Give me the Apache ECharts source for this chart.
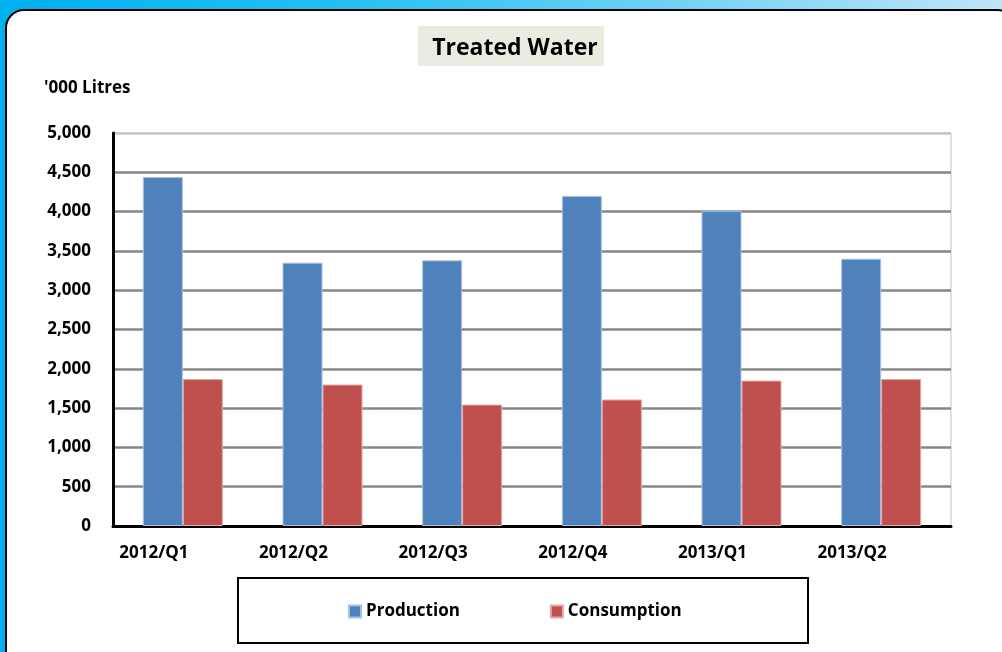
<!DOCTYPE html>
<html>
<head>
<meta charset="utf-8">
<script src="https://cdn.jsdelivr.net/npm/echarts@6/dist/echarts.min.js"></script>
<style>
  html, body { margin: 0; padding: 0; }
  #chart { width: 1002px; height: 652px; }
</style>
</head>
<body>
<div id="chart"></div>
<script>
// 数据
const quarters = ['2012/Q1', '2012/Q2', '2012/Q3', '2012/Q4', '2013/Q1', '2013/Q2'];
const production = [4440, 3350, 3380, 4200, 4010, 3400];
const consumption = [1870, 1800, 1545, 1610, 1850, 1870];
const yTicks = [0, 500, 1000, 1500, 2000, 2500, 3000, 3500, 4000, 4500, 5000];

const font = '"Open Sans", Lato, sans-serif';

var chart = echarts.init(document.getElementById('chart'));

// 网格线颜色：最上面一条浅灰
const splitColors = yTicks.map((v, i) => i === yTicks.length - 1 ? '#c4c4c4' : '#878787');

const option = {
    backgroundColor: new echarts.graphic.LinearGradient(0, 0, 1, 0, [
        { offset: 0, color: '#00b0f0' },
        { offset: 0.35, color: '#26c0f2' },
        { offset: 1, color: '#bfe4f8' }
    ]),
    graphic: [
        {
            // 白色圆角面板
            type: 'rect',
            z: -10,
            shape: { x: 6, y: 10, width: 1010, height: 660, r: 18 },
            style: { fill: '#ffffff', stroke: '#000000', lineWidth: 2 }
        },
        {
            // 标题底色
            type: 'rect',
            z: -5,
            shape: { x: 418, y: 26, width: 186, height: 40 },
            style: { fill: '#ebebdf' }
        },
        {
            // 图例外框
            type: 'rect',
            z: -5,
            shape: { x: 238, y: 578, width: 570, height: 65 },
            style: { fill: '#ffffff', stroke: '#000000', lineWidth: 2 }
        },
        {
            type: 'text',
            left: 44,
            top: 80,
            style: {
                text: "'000 Litres",
                font: 'bold 17px ' + font,
                fill: '#000000'
            }
        }
    ],
    title: {
        text: 'Treated Water',
        left: 510,
        textAlign: 'center',
        top: 32,
        textStyle: {
            fontFamily: font,
            fontWeight: 'bold',
            fontSize: 23,
            color: '#000000'
        }
    },
    legend: {
        left: 343,
        top: 598,
        itemWidth: 12,
        itemHeight: 12,
        itemGap: 90,
        icon: 'rect',
        textStyle: {
            fontFamily: font,
            fontWeight: 'bold',
            fontSize: 17,
            color: '#000000'
        },
        data: ['Production', 'Consumption']
    },
    grid: {
        left: 113,
        right: 51,
        top: 133,
        bottom: 126,
        show: true,
        borderColor: '#c4c4c4',
        borderWidth: 1,
        backgroundColor: '#ffffff'
    },
    xAxis: {
        type: 'category',
        data: quarters,
        axisLine: { lineStyle: { color: '#000000', width: 3 } },
        axisTick: { show: false },
        axisLabel: {
            margin: 19,
            padding: [0, 58, 0, 0],
            fontFamily: font,
            fontWeight: 'bold',
            fontSize: 17,
            color: '#000000'
        }
    },
    yAxis: {
        type: 'value',
        min: 0,
        max: 5000,
        interval: 500,
        axisLine: { show: true, lineStyle: { color: '#000000', width: 3 } },
        axisTick: { show: false },
        splitLine: { lineStyle: { color: splitColors, width: 2.5 } },
        axisLabel: {
            margin: 22,
            fontFamily: font,
            fontWeight: 'bold',
            fontSize: 17,
            color: '#000000',
            formatter: v => v.toLocaleString('en-US')
        }
    },
    series: [
        {
            name: 'Production',
            type: 'bar',
            data: production,
            barWidth: 40,
            barGap: '0%',
            itemStyle: { color: '#4f81bd', borderColor: '#a7c0e0', borderWidth: 1 }
        },
        {
            name: 'Consumption',
            type: 'bar',
            data: consumption,
            barWidth: 40,
            itemStyle: { color: '#c0504d', borderColor: '#e0a8a6', borderWidth: 1 }
        }
    ]
};

chart.setOption(option);
</script>
</body>
</html>
